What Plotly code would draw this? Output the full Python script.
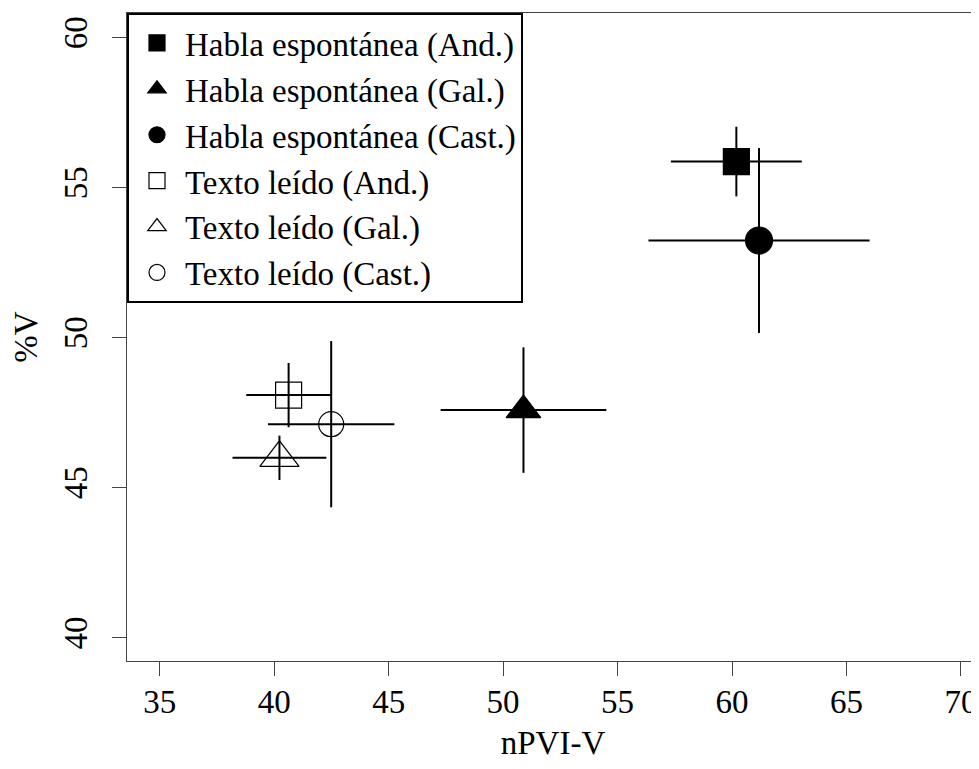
import plotly.graph_objects as go

# Data
names = ["Habla espontánea (And.)", "Habla espontánea (Gal.)", "Habla espontánea (Cast.)",
         "Texto leído (And.)", "Texto leído (Gal.)", "Texto leído (Cast.)"]
npvi = [60.19, 50.89, 61.18, 40.63, 40.23, 42.49]
npvi_err = [2.86, 3.62, 4.83, 1.85, 2.05, 2.76]
pct_v = [55.87, 47.59, 53.24, 48.09, 46.00, 47.12]
pct_v_err = [1.16, 2.09, 3.08, 1.07, 0.74, 2.77]
symbols = ["square", "triangle-up", "circle", "square-open", "triangle-up-open", "circle-open"]
sizes = [26, 30, 27, 26, 34, 25]

x_ticks = [35, 40, 45, 50, 55, 60, 65, 70]
y_ticks = [40, 45, 50, 55, 60]

FONT = "Liberation Serif, Times New Roman, serif"

fig = go.Figure()
for i in range(len(names)):
    fig.add_trace(go.Scatter(
        x=[npvi[i]], y=[pct_v[i]], mode="markers", name=names[i],
        marker=dict(symbol=symbols[i], size=sizes[i], color="black",
                    line=dict(color="black", width=1.2)),
        error_x=dict(type="data", array=[npvi_err[i]], color="black", thickness=2, width=0),
        error_y=dict(type="data", array=[pct_v_err[i]], color="black", thickness=2, width=0),
    ))

# page has an 8px body margin, so the figure is sized/offset to compensate
fig.update_layout(
    width=971, height=761,
    margin=dict(l=119, r=0, t=5, b=108, autoexpand=False),
    paper_bgcolor="white", plot_bgcolor="white",
    font=dict(family=FONT, size=33, color="black"),
    showlegend=True,
    legend=dict(x=0, y=1, xanchor="left", yanchor="top",
                bordercolor="black", borderwidth=2, bgcolor="white",
                font=dict(family=FONT, size=33, color="black"),
                itemwidth=46, tracegroupgap=0),
)
fig.update_xaxes(
    range=[33.57, 70.79], tickvals=x_ticks, ticktext=[str(v) for v in x_ticks],
    showgrid=False, zeroline=False, showline=True, linecolor="#444", linewidth=1,
    mirror=True, ticks="outside", ticklen=14, tickcolor="#444", automargin=False,
    ticklabelstandoff=-3,
    title=dict(text="nPVI-V", font=dict(family=FONT, size=33), standoff=12),
    tickfont=dict(family=FONT, size=33),
)
fig.update_yaxes(
    range=[39.23, 60.82], tickvals=y_ticks, ticktext=[str(v) for v in y_ticks],
    showgrid=False, zeroline=False, showline=True, linecolor="#444", linewidth=1,
    mirror=False, ticks="outside", ticklen=14, tickcolor="#444", tickangle=-90,
    automargin=False, ticklabelstandoff=12,
    title=dict(text="%V", font=dict(family=FONT, size=33), standoff=32),
    tickfont=dict(family=FONT, size=33),
)

fig.write_html("out.html")
